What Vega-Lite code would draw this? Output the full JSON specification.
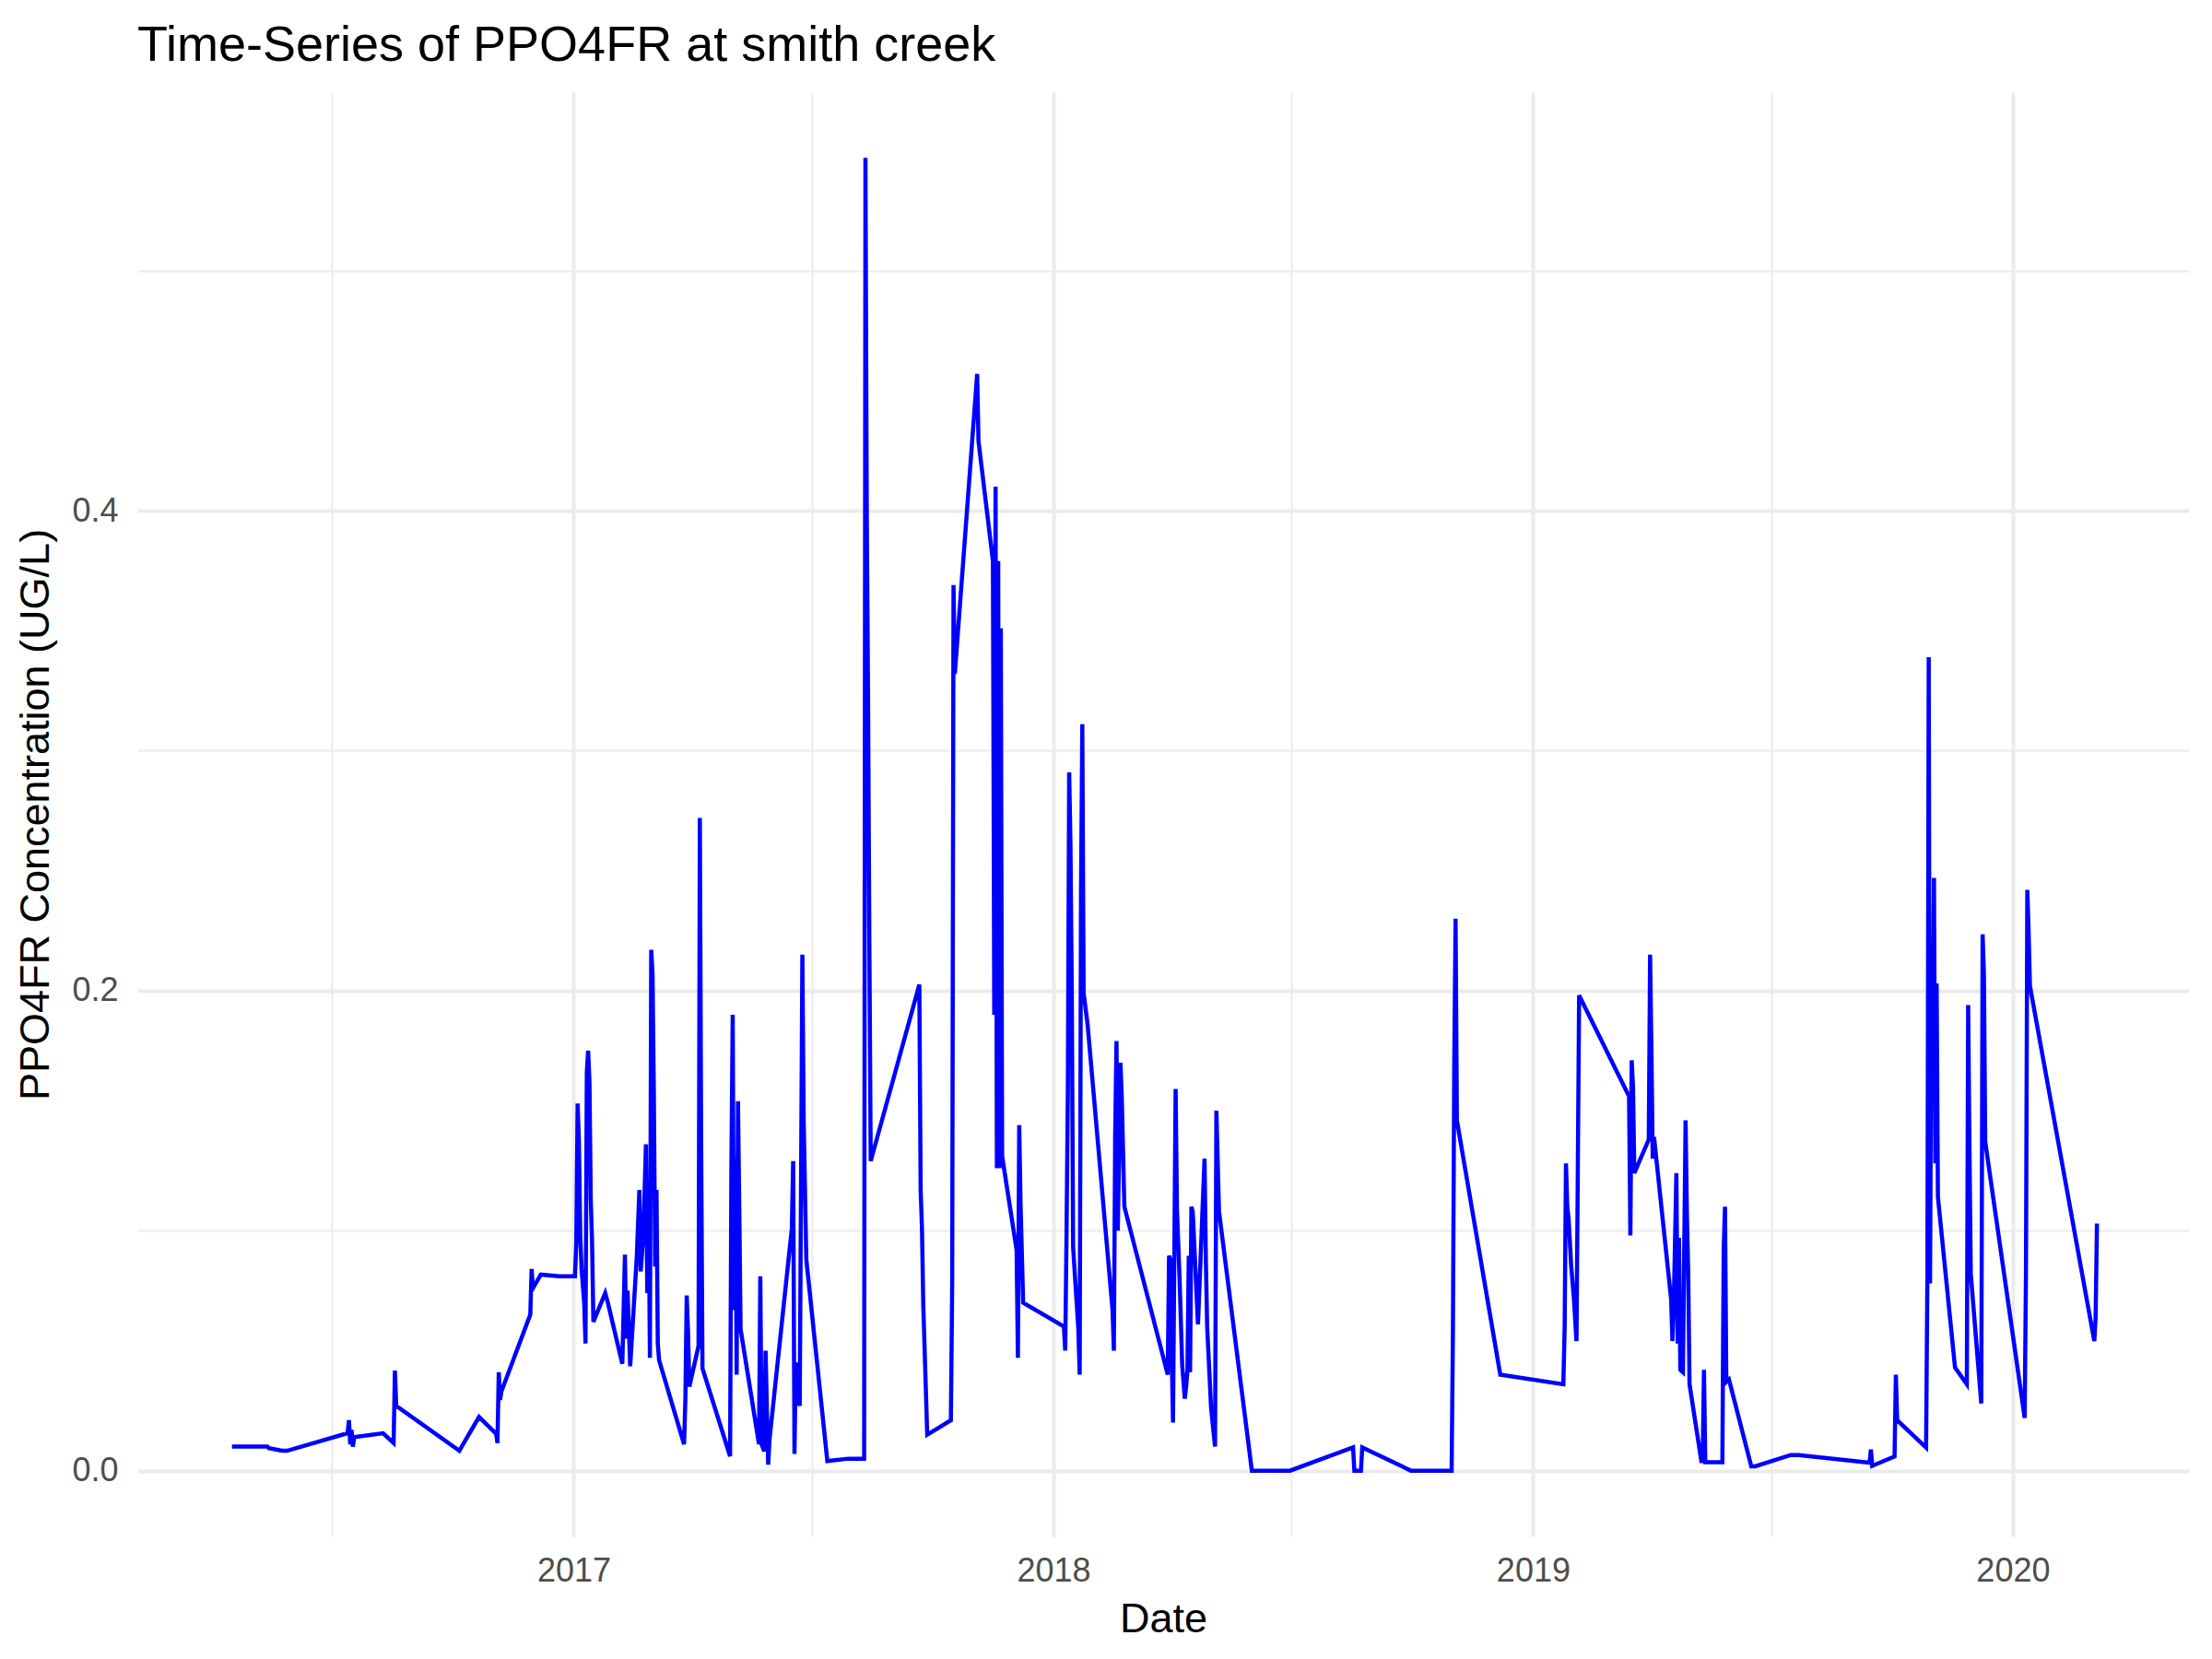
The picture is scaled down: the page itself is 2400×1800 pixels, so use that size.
{
  "$schema": "https://vega.github.io/schema/vega-lite/v6.json",
  "width": 2226,
  "height": 1567,
  "autosize": "none",
  "padding": {"left": 149, "top": 100, "right": 25, "bottom": 133},
  "background": "white",
  "title": {
    "text": "Time-Series of PPO4FR at smith creek",
    "anchor": "start",
    "frame": "group",
    "baseline": "alphabetic",
    "offset": 36,
    "dy": 56,
    "font": "Liberation Sans",
    "fontSize": 54,
    "fontWeight": "normal",
    "color": "black"
  },
  "data": {
    "values": [
      {"Date": "2016-04-16", "PPO4FR": 0.010},
      {"Date": "2016-05-04", "PPO4FR": 0.010},
      {"Date": "2016-05-13", "PPO4FR": 0.010},
      {"Date": "2016-05-14", "PPO4FR": 0.0094},
      {"Date": "2016-05-24", "PPO4FR": 0.0083},
      {"Date": "2016-05-28", "PPO4FR": 0.0083},
      {"Date": "2016-07-13", "PPO4FR": 0.0156},
      {"Date": "2016-07-14", "PPO4FR": 0.021},
      {"Date": "2016-07-15", "PPO4FR": 0.011},
      {"Date": "2016-07-16", "PPO4FR": 0.017},
      {"Date": "2016-07-17", "PPO4FR": 0.010},
      {"Date": "2016-07-18", "PPO4FR": 0.014},
      {"Date": "2016-08-09", "PPO4FR": 0.0156},
      {"Date": "2016-08-17", "PPO4FR": 0.0115},
      {"Date": "2016-08-18", "PPO4FR": 0.0417},
      {"Date": "2016-08-19", "PPO4FR": 0.027},
      {"Date": "2016-10-06", "PPO4FR": 0.0083},
      {"Date": "2016-10-21", "PPO4FR": 0.0224},
      {"Date": "2016-11-03", "PPO4FR": 0.0154},
      {"Date": "2016-11-04", "PPO4FR": 0.0115},
      {"Date": "2016-11-05", "PPO4FR": 0.041},
      {"Date": "2016-11-06", "PPO4FR": 0.0295},
      {"Date": "2016-11-07", "PPO4FR": 0.033},
      {"Date": "2016-11-29", "PPO4FR": 0.065},
      {"Date": "2016-11-30", "PPO4FR": 0.084},
      {"Date": "2016-12-01", "PPO4FR": 0.076},
      {"Date": "2016-12-07", "PPO4FR": 0.0817},
      {"Date": "2016-12-21", "PPO4FR": 0.081},
      {"Date": "2017-01-02", "PPO4FR": 0.081},
      {"Date": "2017-01-03", "PPO4FR": 0.095},
      {"Date": "2017-01-04", "PPO4FR": 0.153},
      {"Date": "2017-01-05", "PPO4FR": 0.137},
      {"Date": "2017-01-06", "PPO4FR": 0.098},
      {"Date": "2017-01-07", "PPO4FR": 0.084},
      {"Date": "2017-01-09", "PPO4FR": 0.070},
      {"Date": "2017-01-10", "PPO4FR": 0.053},
      {"Date": "2017-01-11", "PPO4FR": 0.166},
      {"Date": "2017-01-12", "PPO4FR": 0.175},
      {"Date": "2017-01-13", "PPO4FR": 0.162},
      {"Date": "2017-01-14", "PPO4FR": 0.113},
      {"Date": "2017-01-15", "PPO4FR": 0.095},
      {"Date": "2017-01-16", "PPO4FR": 0.062},
      {"Date": "2017-01-25", "PPO4FR": 0.074},
      {"Date": "2017-01-27", "PPO4FR": 0.070},
      {"Date": "2017-02-07", "PPO4FR": 0.0445},
      {"Date": "2017-02-08", "PPO4FR": 0.067},
      {"Date": "2017-02-09", "PPO4FR": 0.090},
      {"Date": "2017-02-10", "PPO4FR": 0.055},
      {"Date": "2017-02-11", "PPO4FR": 0.075},
      {"Date": "2017-02-13", "PPO4FR": 0.0435},
      {"Date": "2017-02-18", "PPO4FR": 0.089},
      {"Date": "2017-02-20", "PPO4FR": 0.117},
      {"Date": "2017-02-21", "PPO4FR": 0.083},
      {"Date": "2017-02-23", "PPO4FR": 0.098},
      {"Date": "2017-02-25", "PPO4FR": 0.136},
      {"Date": "2017-02-26", "PPO4FR": 0.074},
      {"Date": "2017-02-27", "PPO4FR": 0.118},
      {"Date": "2017-02-28", "PPO4FR": 0.047},
      {"Date": "2017-03-01", "PPO4FR": 0.217},
      {"Date": "2017-03-02", "PPO4FR": 0.207},
      {"Date": "2017-03-03", "PPO4FR": 0.157},
      {"Date": "2017-03-04", "PPO4FR": 0.085},
      {"Date": "2017-03-05", "PPO4FR": 0.117},
      {"Date": "2017-03-06", "PPO4FR": 0.053},
      {"Date": "2017-03-07", "PPO4FR": 0.046},
      {"Date": "2017-03-26", "PPO4FR": 0.011},
      {"Date": "2017-03-27", "PPO4FR": 0.030},
      {"Date": "2017-03-28", "PPO4FR": 0.073},
      {"Date": "2017-03-29", "PPO4FR": 0.058},
      {"Date": "2017-03-30", "PPO4FR": 0.035},
      {"Date": "2017-04-06", "PPO4FR": 0.052},
      {"Date": "2017-04-07", "PPO4FR": 0.272},
      {"Date": "2017-04-08", "PPO4FR": 0.136},
      {"Date": "2017-04-09", "PPO4FR": 0.0426},
      {"Date": "2017-04-30", "PPO4FR": 0.006},
      {"Date": "2017-05-01", "PPO4FR": 0.127},
      {"Date": "2017-05-02", "PPO4FR": 0.190},
      {"Date": "2017-05-03", "PPO4FR": 0.067},
      {"Date": "2017-05-04", "PPO4FR": 0.130},
      {"Date": "2017-05-05", "PPO4FR": 0.040},
      {"Date": "2017-05-06", "PPO4FR": 0.154},
      {"Date": "2017-05-07", "PPO4FR": 0.109},
      {"Date": "2017-05-08", "PPO4FR": 0.059},
      {"Date": "2017-05-22", "PPO4FR": 0.011},
      {"Date": "2017-05-23", "PPO4FR": 0.081},
      {"Date": "2017-05-24", "PPO4FR": 0.011},
      {"Date": "2017-05-26", "PPO4FR": 0.008},
      {"Date": "2017-05-27", "PPO4FR": 0.050},
      {"Date": "2017-05-29", "PPO4FR": 0.0025},
      {"Date": "2017-05-30", "PPO4FR": 0.013},
      {"Date": "2017-06-16", "PPO4FR": 0.101},
      {"Date": "2017-06-17", "PPO4FR": 0.129},
      {"Date": "2017-06-18", "PPO4FR": 0.007},
      {"Date": "2017-06-19", "PPO4FR": 0.045},
      {"Date": "2017-06-21", "PPO4FR": 0.030},
      {"Date": "2017-06-22", "PPO4FR": 0.027},
      {"Date": "2017-06-24", "PPO4FR": 0.215},
      {"Date": "2017-06-25", "PPO4FR": 0.146},
      {"Date": "2017-06-27", "PPO4FR": 0.088},
      {"Date": "2017-07-13", "PPO4FR": 0.004},
      {"Date": "2017-07-29", "PPO4FR": 0.005},
      {"Date": "2017-08-10", "PPO4FR": 0.005},
      {"Date": "2017-08-11", "PPO4FR": 0.547},
      {"Date": "2017-08-12", "PPO4FR": 0.399},
      {"Date": "2017-08-13", "PPO4FR": 0.320},
      {"Date": "2017-08-14", "PPO4FR": 0.217},
      {"Date": "2017-08-15", "PPO4FR": 0.129},
      {"Date": "2017-09-21", "PPO4FR": 0.2025},
      {"Date": "2017-09-22", "PPO4FR": 0.117},
      {"Date": "2017-09-23", "PPO4FR": 0.101},
      {"Date": "2017-09-24", "PPO4FR": 0.069},
      {"Date": "2017-09-27", "PPO4FR": 0.015},
      {"Date": "2017-10-15", "PPO4FR": 0.021},
      {"Date": "2017-10-16", "PPO4FR": 0.078},
      {"Date": "2017-10-17", "PPO4FR": 0.369},
      {"Date": "2017-10-18", "PPO4FR": 0.332},
      {"Date": "2017-11-04", "PPO4FR": 0.457},
      {"Date": "2017-11-05", "PPO4FR": 0.429},
      {"Date": "2017-11-16", "PPO4FR": 0.379},
      {"Date": "2017-11-17", "PPO4FR": 0.190},
      {"Date": "2017-11-18", "PPO4FR": 0.410},
      {"Date": "2017-11-19", "PPO4FR": 0.126},
      {"Date": "2017-11-20", "PPO4FR": 0.379},
      {"Date": "2017-11-21", "PPO4FR": 0.126},
      {"Date": "2017-11-22", "PPO4FR": 0.351},
      {"Date": "2017-11-23", "PPO4FR": 0.131},
      {"Date": "2017-12-04", "PPO4FR": 0.092},
      {"Date": "2017-12-05", "PPO4FR": 0.047},
      {"Date": "2017-12-06", "PPO4FR": 0.144},
      {"Date": "2017-12-07", "PPO4FR": 0.111},
      {"Date": "2017-12-09", "PPO4FR": 0.070},
      {"Date": "2018-01-09", "PPO4FR": 0.060},
      {"Date": "2018-01-10", "PPO4FR": 0.050},
      {"Date": "2018-01-11", "PPO4FR": 0.099},
      {"Date": "2018-01-12", "PPO4FR": 0.159},
      {"Date": "2018-01-13", "PPO4FR": 0.291},
      {"Date": "2018-01-14", "PPO4FR": 0.260},
      {"Date": "2018-01-15", "PPO4FR": 0.199},
      {"Date": "2018-01-16", "PPO4FR": 0.093},
      {"Date": "2018-01-20", "PPO4FR": 0.059},
      {"Date": "2018-01-21", "PPO4FR": 0.040},
      {"Date": "2018-01-22", "PPO4FR": 0.240},
      {"Date": "2018-01-23", "PPO4FR": 0.311},
      {"Date": "2018-01-24", "PPO4FR": 0.199},
      {"Date": "2018-01-27", "PPO4FR": 0.186},
      {"Date": "2018-02-15", "PPO4FR": 0.067},
      {"Date": "2018-02-16", "PPO4FR": 0.050},
      {"Date": "2018-02-17", "PPO4FR": 0.139},
      {"Date": "2018-02-18", "PPO4FR": 0.179},
      {"Date": "2018-02-19", "PPO4FR": 0.100},
      {"Date": "2018-02-20", "PPO4FR": 0.133},
      {"Date": "2018-02-21", "PPO4FR": 0.170},
      {"Date": "2018-02-22", "PPO4FR": 0.156},
      {"Date": "2018-02-24", "PPO4FR": 0.110},
      {"Date": "2018-03-29", "PPO4FR": 0.040},
      {"Date": "2018-03-30", "PPO4FR": 0.0895},
      {"Date": "2018-03-31", "PPO4FR": 0.088},
      {"Date": "2018-04-01", "PPO4FR": 0.050},
      {"Date": "2018-04-02", "PPO4FR": 0.020},
      {"Date": "2018-04-04", "PPO4FR": 0.159},
      {"Date": "2018-04-05", "PPO4FR": 0.109},
      {"Date": "2018-04-07", "PPO4FR": 0.080},
      {"Date": "2018-04-09", "PPO4FR": 0.044},
      {"Date": "2018-04-11", "PPO4FR": 0.030},
      {"Date": "2018-04-12", "PPO4FR": 0.035},
      {"Date": "2018-04-13", "PPO4FR": 0.042},
      {"Date": "2018-04-14", "PPO4FR": 0.0895},
      {"Date": "2018-04-15", "PPO4FR": 0.041},
      {"Date": "2018-04-16", "PPO4FR": 0.110},
      {"Date": "2018-04-17", "PPO4FR": 0.108},
      {"Date": "2018-04-21", "PPO4FR": 0.061},
      {"Date": "2018-04-26", "PPO4FR": 0.130},
      {"Date": "2018-04-27", "PPO4FR": 0.088},
      {"Date": "2018-04-28", "PPO4FR": 0.060},
      {"Date": "2018-05-01", "PPO4FR": 0.026},
      {"Date": "2018-05-04", "PPO4FR": 0.010},
      {"Date": "2018-05-05", "PPO4FR": 0.150},
      {"Date": "2018-05-07", "PPO4FR": 0.108},
      {"Date": "2018-06-01", "PPO4FR": 0.000},
      {"Date": "2018-06-30", "PPO4FR": 0.000},
      {"Date": "2018-08-17", "PPO4FR": 0.0097},
      {"Date": "2018-08-18", "PPO4FR": 0.000},
      {"Date": "2018-08-23", "PPO4FR": 0.000},
      {"Date": "2018-08-24", "PPO4FR": 0.0097},
      {"Date": "2018-09-30", "PPO4FR": 0.000},
      {"Date": "2018-10-31", "PPO4FR": 0.000},
      {"Date": "2018-11-01", "PPO4FR": 0.059},
      {"Date": "2018-11-02", "PPO4FR": 0.170},
      {"Date": "2018-11-03", "PPO4FR": 0.230},
      {"Date": "2018-11-04", "PPO4FR": 0.146},
      {"Date": "2018-12-07", "PPO4FR": 0.040},
      {"Date": "2019-01-24", "PPO4FR": 0.036},
      {"Date": "2019-01-25", "PPO4FR": 0.060},
      {"Date": "2019-01-26", "PPO4FR": 0.128},
      {"Date": "2019-01-27", "PPO4FR": 0.110},
      {"Date": "2019-01-28", "PPO4FR": 0.105},
      {"Date": "2019-01-30", "PPO4FR": 0.085},
      {"Date": "2019-02-01", "PPO4FR": 0.072},
      {"Date": "2019-02-03", "PPO4FR": 0.054},
      {"Date": "2019-02-04", "PPO4FR": 0.125},
      {"Date": "2019-02-05", "PPO4FR": 0.198},
      {"Date": "2019-03-15", "PPO4FR": 0.156},
      {"Date": "2019-03-16", "PPO4FR": 0.098},
      {"Date": "2019-03-17", "PPO4FR": 0.171},
      {"Date": "2019-03-18", "PPO4FR": 0.160},
      {"Date": "2019-03-19", "PPO4FR": 0.124},
      {"Date": "2019-03-30", "PPO4FR": 0.138},
      {"Date": "2019-03-31", "PPO4FR": 0.215},
      {"Date": "2019-04-01", "PPO4FR": 0.176},
      {"Date": "2019-04-02", "PPO4FR": 0.130},
      {"Date": "2019-04-03", "PPO4FR": 0.139},
      {"Date": "2019-04-16", "PPO4FR": 0.0715},
      {"Date": "2019-04-17", "PPO4FR": 0.054},
      {"Date": "2019-04-18", "PPO4FR": 0.069},
      {"Date": "2019-04-20", "PPO4FR": 0.124},
      {"Date": "2019-04-21", "PPO4FR": 0.053},
      {"Date": "2019-04-22", "PPO4FR": 0.097},
      {"Date": "2019-04-23", "PPO4FR": 0.042},
      {"Date": "2019-04-25", "PPO4FR": 0.041},
      {"Date": "2019-04-27", "PPO4FR": 0.146},
      {"Date": "2019-04-28", "PPO4FR": 0.107},
      {"Date": "2019-04-29", "PPO4FR": 0.083},
      {"Date": "2019-04-30", "PPO4FR": 0.036},
      {"Date": "2019-05-09", "PPO4FR": 0.004},
      {"Date": "2019-05-10", "PPO4FR": 0.004},
      {"Date": "2019-05-11", "PPO4FR": 0.042},
      {"Date": "2019-05-12", "PPO4FR": 0.0035},
      {"Date": "2019-05-25", "PPO4FR": 0.0035},
      {"Date": "2019-05-26", "PPO4FR": 0.0925},
      {"Date": "2019-05-27", "PPO4FR": 0.110},
      {"Date": "2019-05-28", "PPO4FR": 0.037},
      {"Date": "2019-05-30", "PPO4FR": 0.038},
      {"Date": "2019-06-16", "PPO4FR": 0.0018},
      {"Date": "2019-06-19", "PPO4FR": 0.0018},
      {"Date": "2019-07-16", "PPO4FR": 0.0065},
      {"Date": "2019-07-22", "PPO4FR": 0.0065},
      {"Date": "2019-09-14", "PPO4FR": 0.0033},
      {"Date": "2019-09-15", "PPO4FR": 0.0088},
      {"Date": "2019-09-16", "PPO4FR": 0.002},
      {"Date": "2019-10-03", "PPO4FR": 0.0059},
      {"Date": "2019-10-04", "PPO4FR": 0.040},
      {"Date": "2019-10-05", "PPO4FR": 0.021},
      {"Date": "2019-10-27", "PPO4FR": 0.0096},
      {"Date": "2019-10-28", "PPO4FR": 0.082},
      {"Date": "2019-10-29", "PPO4FR": 0.339},
      {"Date": "2019-10-30", "PPO4FR": 0.078},
      {"Date": "2019-10-31", "PPO4FR": 0.202},
      {"Date": "2019-11-01", "PPO4FR": 0.172},
      {"Date": "2019-11-02", "PPO4FR": 0.247},
      {"Date": "2019-11-03", "PPO4FR": 0.128},
      {"Date": "2019-11-04", "PPO4FR": 0.203},
      {"Date": "2019-11-05", "PPO4FR": 0.114},
      {"Date": "2019-11-18", "PPO4FR": 0.043},
      {"Date": "2019-11-27", "PPO4FR": 0.036},
      {"Date": "2019-11-28", "PPO4FR": 0.194},
      {"Date": "2019-11-29", "PPO4FR": 0.134},
      {"Date": "2019-11-30", "PPO4FR": 0.082},
      {"Date": "2019-12-08", "PPO4FR": 0.028},
      {"Date": "2019-12-09", "PPO4FR": 0.2235},
      {"Date": "2019-12-10", "PPO4FR": 0.207},
      {"Date": "2019-12-11", "PPO4FR": 0.137},
      {"Date": "2020-01-10", "PPO4FR": 0.022},
      {"Date": "2020-01-11", "PPO4FR": 0.083},
      {"Date": "2020-01-12", "PPO4FR": 0.242},
      {"Date": "2020-01-13", "PPO4FR": 0.225},
      {"Date": "2020-01-14", "PPO4FR": 0.202},
      {"Date": "2020-03-03", "PPO4FR": 0.054},
      {"Date": "2020-03-04", "PPO4FR": 0.064},
      {"Date": "2020-03-05", "PPO4FR": 0.103}
    ]
  },
  "mark": {"type": "line", "color": "#0000FF", "strokeWidth": 4.5, "clip": true},
  "encoding": {
    "x": {
      "field": "Date",
      "type": "temporal",
      "title": "Date",
      "scale": {"domain": [{"year": 2016, "month": 2, "date": 4}, {"year": 2020, "month": 5, "date": 14}], "nice": false},
      "axis": {
        "values": [
          {"year": 2016, "month": 7, "date": 1},
          {"year": 2017, "month": 1, "date": 1},
          {"year": 2017, "month": 7, "date": 1},
          {"year": 2018, "month": 1, "date": 1},
          {"year": 2018, "month": 7, "date": 1},
          {"year": 2019, "month": 1, "date": 1},
          {"year": 2019, "month": 7, "date": 1},
          {"year": 2020, "month": 1, "date": 1}
        ],
        "labelExpr": "month(datum.value) == 0 ? timeFormat(datum.value, '%Y') : ''",
        "gridWidth": {"condition": {"test": "month(datum.value) == 0", "value": 4}, "value": 2},
        "labelPadding": 20,
        "titlePadding": 12
      }
    },
    "y": {
      "field": "PPO4FR",
      "type": "quantitative",
      "title": "PPO4FR Concentration (UG/L)",
      "scale": {"domain": [-0.0274, 0.5744], "nice": false, "zero": false},
      "axis": {
        "values": [0, 0.1, 0.2, 0.3, 0.4, 0.5],
        "labelExpr": "round(datum.value * 10) % 2 == 0 ? format(datum.value, '.1f') : ''",
        "gridWidth": {"condition": {"test": "round(datum.value * 10) % 2 == 0", "value": 4}, "value": 2},
        "labelPadding": 21,
        "titlePadding": 16
      }
    }
  },
  "config": {
    "view": {"stroke": null},
    "axis": {
      "domain": false,
      "ticks": false,
      "grid": true,
      "gridColor": "#EBEBEB",
      "labelFont": "Liberation Sans",
      "labelFontSize": 36,
      "labelColor": "#4D4D4D",
      "titleFont": "Liberation Sans",
      "titleFontSize": 45,
      "titleFontWeight": "normal",
      "titleColor": "black"
    }
  }
}
